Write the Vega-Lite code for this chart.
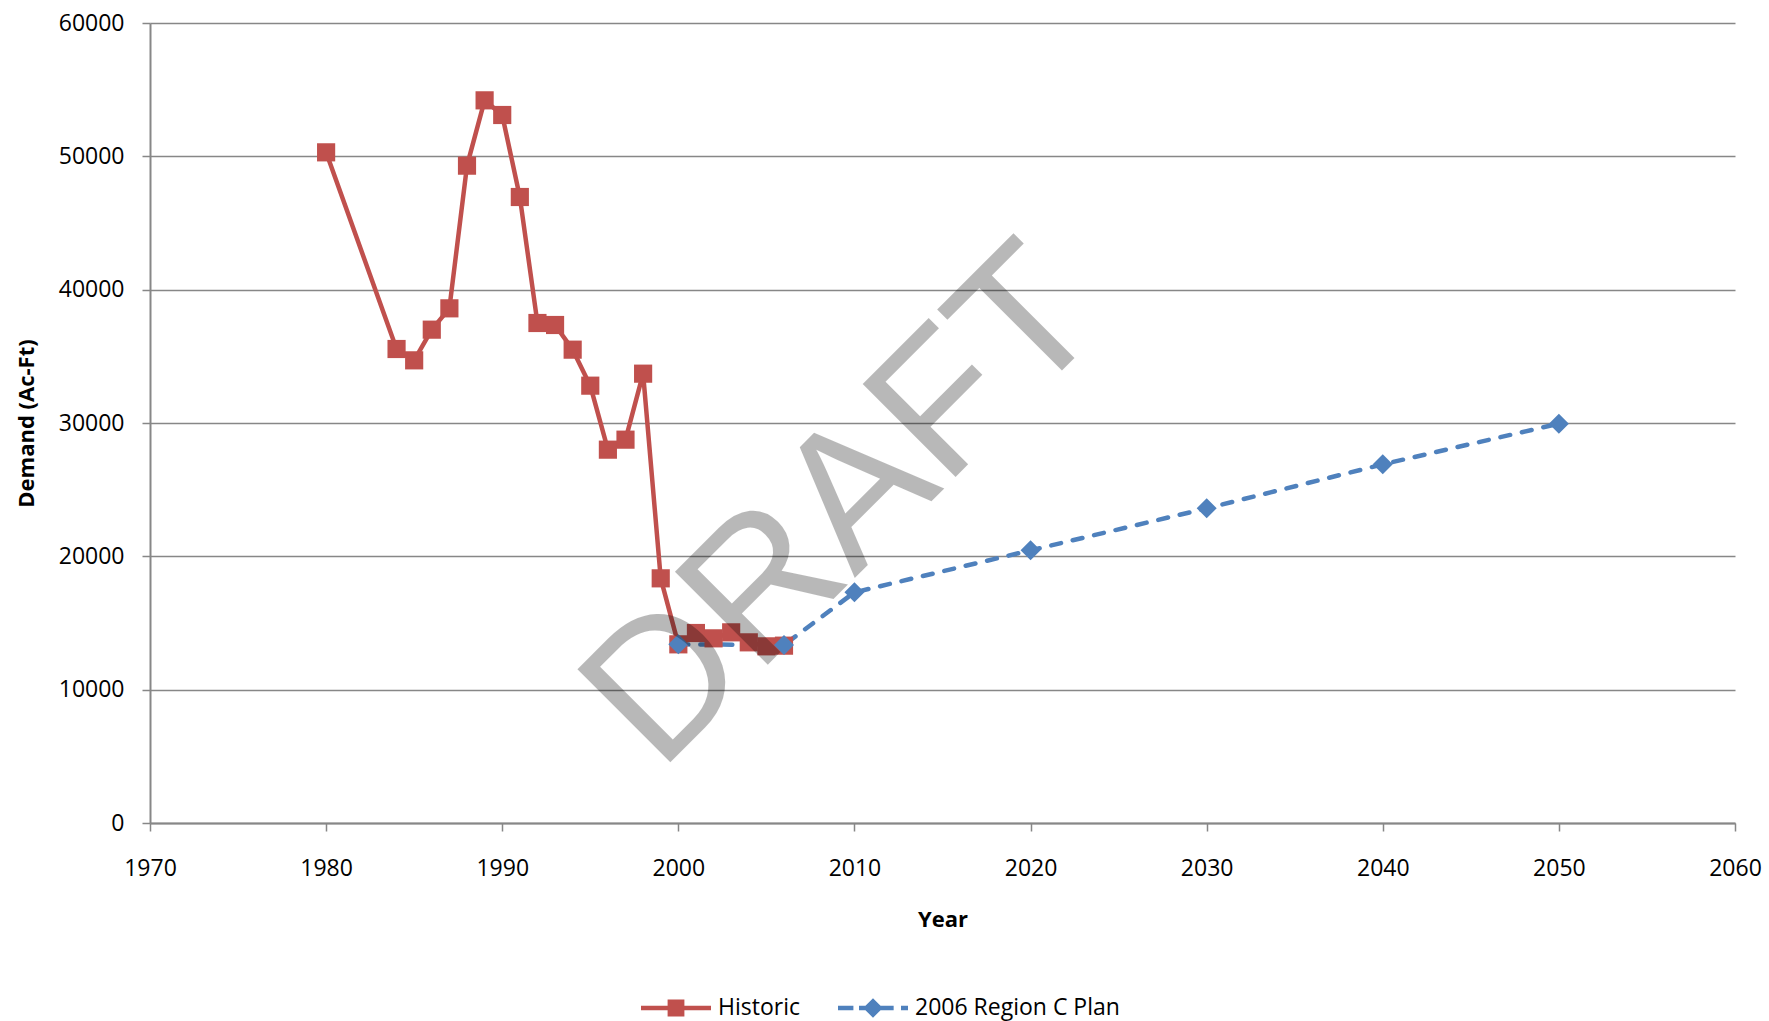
{
  "$schema": "https://vega.github.io/schema/vega-lite/v6.json",
  "width": 1585,
  "height": 800,
  "autosize": {"type": "none"},
  "padding": {"left": 150, "top": 23, "right": 34, "bottom": 198},
  "background": "white",
  "config": {"view": {"stroke": null}, "font": "Open Sans"},
  "data": {
    "values": [
      {"year": 1980, "value": 50300, "series": "Historic"},
      {"year": 1984, "value": 35550, "series": "Historic"},
      {"year": 1985, "value": 34700, "series": "Historic"},
      {"year": 1986, "value": 37000, "series": "Historic"},
      {"year": 1987, "value": 38600, "series": "Historic"},
      {"year": 1988, "value": 49300, "series": "Historic"},
      {"year": 1989, "value": 54200, "series": "Historic"},
      {"year": 1990, "value": 53100, "series": "Historic"},
      {"year": 1991, "value": 46950, "series": "Historic"},
      {"year": 1992, "value": 37500, "series": "Historic"},
      {"year": 1993, "value": 37350, "series": "Historic"},
      {"year": 1994, "value": 35500, "series": "Historic"},
      {"year": 1995, "value": 32800, "series": "Historic"},
      {"year": 1996, "value": 28000, "series": "Historic"},
      {"year": 1997, "value": 28750, "series": "Historic"},
      {"year": 1998, "value": 33700, "series": "Historic"},
      {"year": 1999, "value": 18350, "series": "Historic"},
      {"year": 2000, "value": 13400, "series": "Historic"},
      {"year": 2001, "value": 14250, "series": "Historic"},
      {"year": 2002, "value": 13850, "series": "Historic"},
      {"year": 2003, "value": 14300, "series": "Historic"},
      {"year": 2004, "value": 13550, "series": "Historic"},
      {"year": 2005, "value": 13250, "series": "Historic"},
      {"year": 2006, "value": 13300, "series": "Historic"},
      {"year": 2000, "value": 13400, "series": "2006 Region C Plan"},
      {"year": 2006, "value": 13350, "series": "2006 Region C Plan"},
      {"year": 2010, "value": 17300, "series": "2006 Region C Plan"},
      {"year": 2020, "value": 20450, "series": "2006 Region C Plan"},
      {"year": 2030, "value": 23600, "series": "2006 Region C Plan"},
      {"year": 2040, "value": 26900, "series": "2006 Region C Plan"},
      {"year": 2050, "value": 29950, "series": "2006 Region C Plan"}
    ]
  },
  "layer": [
    {
      "transform": [{"filter": "datum.series === '2006 Region C Plan'"}],
      "mark": {"type": "line", "color": "#4F81BD", "strokeWidth": 4.5, "strokeDash": [10, 12], "strokeCap": "round"},
      "encoding": {
        "x": {
          "field": "year", "type": "quantitative",
          "scale": {"domain": [1970, 2060], "nice": false, "zero": false},
          "axis": {
            "values": [1970, 1980, 1990, 2000, 2010, 2020, 2030, 2040, 2050, 2060],
            "format": "d", "grid": false, "labelFlush": false, "labelOverlap": false,
            "domainColor": "#878787", "domainWidth": 2, "tickColor": "#878787", "tickWidth": 1.5, "tickSize": 8,
            "labelFont": "Open Sans", "labelFontSize": 23, "labelColor": "#000000", "labelPadding": 26,
            "title": "Year", "titleFont": "Open Sans", "titleFontSize": 22, "titleFontWeight": "bold", "titleColor": "#000000",
            "titleY": 103.4, "titleBaseline": "alphabetic"
          }
        },
        "y": {
          "field": "value", "type": "quantitative",
          "scale": {"domain": [0, 60000], "nice": false},
          "axis": {
            "values": [0, 10000, 20000, 30000, 40000, 50000, 60000],
            "format": "d", "grid": true, "gridColor": "#878787", "gridWidth": 1.5, "labelOverlap": false,
            "domainColor": "#878787", "domainWidth": 2, "tickColor": "#878787", "tickWidth": 1.5, "tickSize": 8,
            "labelFont": "Open Sans", "labelFontSize": 23, "labelColor": "#000000", "labelPadding": 18,
            "title": "Demand (Ac-Ft)", "titleFont": "Open Sans", "titleFontSize": 22, "titleFontWeight": "bold", "titleColor": "#000000",
            "titleAngle": -90, "titleX": -116.5, "titleY": 400, "titleAlign": "center", "titleBaseline": "alphabetic"
          }
        }
      }
    },
    {
      "transform": [{"filter": "datum.series === 'Historic'"}],
      "mark": {"type": "line", "color": "#C0504D", "strokeWidth": 4.5, "strokeJoin": "round", "strokeCap": "round"},
      "encoding": {
        "x": {"field": "year", "type": "quantitative"},
        "y": {"field": "value", "type": "quantitative"}
      }
    },
    {
      "transform": [{"filter": "datum.series === 'Historic'"}],
      "mark": {"type": "point", "shape": "square", "filled": true, "size": 330, "color": "#C0504D", "opacity": 1},
      "encoding": {
        "x": {"field": "year", "type": "quantitative"},
        "y": {"field": "value", "type": "quantitative"}
      }
    },
    {
      "transform": [{"filter": "datum.series === '2006 Region C Plan'"}],
      "mark": {"type": "point", "shape": "diamond", "filled": true, "size": 400, "color": "#4F81BD", "opacity": 1},
      "encoding": {
        "x": {"field": "year", "type": "quantitative"},
        "y": {"field": "value", "type": "quantitative"}
      }
    },
    {
      "mark": {"type": "point", "filled": true, "opacity": 0, "size": 10},
      "encoding": {
        "x": {"field": "year", "type": "quantitative"},
        "y": {"field": "value", "type": "quantitative"},
        "color": {
          "field": "series", "type": "nominal",
          "scale": {"domain": ["Historic", "2006 Region C Plan"], "range": ["#C0504D", "#4F81BD"]},
          "legend": {
            "title": null, "orient": "none", "direction": "horizontal", "legendX": 491, "legendY": 950,
            "symbolSize": 4900, "symbolOpacity": 1, "symbolStrokeWidth": 0,
            "labelFont": "Open Sans", "labelFontSize": 23, "labelColor": "#000000", "labelOffset": 7, "labelLimit": 600,
            "columnPadding": 38, "padding": 0
          }
        },
        "shape": {
          "field": "series", "type": "nominal",
          "scale": {
            "domain": ["Historic", "2006 Region C Plan"],
            "range": [
              "M-1,-0.064H1V0.064H-1Z M-0.24,-0.24H0.24V0.24H-0.24Z",
              "M-1,-0.064H-0.56V0.064H-1Z M-0.4,-0.064H0.59V0.064H-0.4Z M0.8,-0.064H1V0.064H0.8Z M0,-0.28L0.28,0L0,0.28L-0.28,0Z"
            ]
          },
          "legend": {
            "title": null, "orient": "none", "direction": "horizontal", "legendX": 491, "legendY": 950,
            "symbolSize": 4900, "symbolOpacity": 1, "symbolStrokeWidth": 0,
            "labelFont": "Open Sans", "labelFontSize": 23, "labelColor": "#000000", "labelOffset": 7, "labelLimit": 600,
            "columnPadding": 38, "padding": 0
          }
        }
      }
    },
    {
      "data": {"values": [{"label": "DRAFT"}]},
      "mark": {"type": "text", "font": "Liberation Sans", "fontSize": 191, "angle": -45, "align": "center", "baseline": "alphabetic", "color": "#000000", "opacity": 0.275},
      "encoding": {
        "x": {"datum": 2011.7, "type": "quantitative"},
        "y": {"datum": 20610, "type": "quantitative"},
        "text": {"field": "label"}
      }
    }
  ]
}
